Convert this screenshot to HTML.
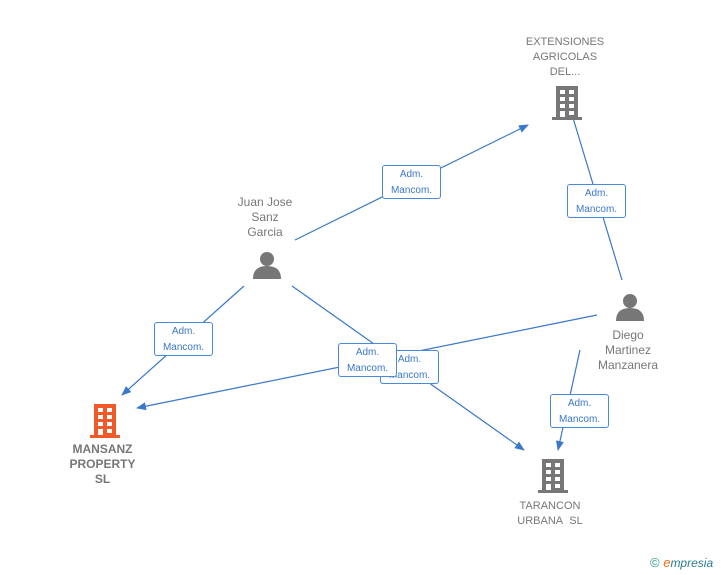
<!DOCTYPE html>
<html><head><style>
body{margin:0;width:728px;height:575px;background:#fff;position:relative;overflow:hidden;font-family:"Liberation Sans",sans-serif}
.t{position:absolute;text-align:center;font-size:12px;color:#777;line-height:15px}
.lb{position:absolute;width:59px;height:34px;background:#fff;border:1px solid #4a88d9;border-radius:3px;font-size:10px;color:#3a78c9;text-align:center;line-height:16px;box-sizing:border-box;padding-top:1px}
</style></head><body>
<svg width="728" height="575" style="position:absolute;left:0;top:0">
<defs><marker id="a" markerWidth="10" markerHeight="10" refX="9" refY="5" orient="auto" markerUnits="userSpaceOnUse"><path d="M0,1 L10,5 L0,9 Z" fill="#3a78c9"/></marker>
<g id="b"><rect x="4" y="0" width="22" height="33" fill="currentColor"/><rect x="0" y="31" width="30" height="3" fill="currentColor"/>
<g fill="#fff"><rect x="8" y="4" width="5" height="4"/><rect x="17" y="4" width="5" height="4"/><rect x="8" y="11" width="5" height="4"/><rect x="17" y="11" width="5" height="4"/><rect x="8" y="18" width="5" height="4"/><rect x="17" y="18" width="5" height="4"/><rect x="8" y="25" width="5" height="6"/><rect x="17" y="25" width="5" height="4"/></g></g>
<g id="p"><circle cx="14" cy="8" r="7" fill="#777"/><path d="M0,28 Q0,15 14,15 Q28,15 28,28 Z" fill="#777"/></g></defs>
<g stroke="#3a78c9" stroke-width="1.2" fill="none" marker-end="url(#a)">
<line x1="295" y1="240" x2="528" y2="125"/>
<line x1="622" y1="280" x2="570" y2="108"/>
<line x1="244" y1="286" x2="122" y2="395"/>
<line x1="292" y1="286" x2="524" y2="450"/>
<line x1="597" y1="315" x2="137" y2="408"/>
<line x1="580" y1="350" x2="558" y2="450"/>
</g>
<use href="#b" x="552" y="86" style="color:#777"/>
<use href="#b" x="90" y="404" style="color:#f05a28"/>
<use href="#b" x="538" y="459" style="color:#777"/>
<use href="#p" x="253" y="251"/>
<use href="#p" x="616" y="293"/>
</svg>
<div class="t" style="left:505px;top:35px;width:120px;font-size:11px">EXTENSIONES<br>AGRICOLAS<br>DEL...</div>
<div class="t" style="left:215px;top:195px;width:100px">Juan Jose<br>Sanz<br>Garcia</div>
<div class="t" style="left:578px;top:328px;width:100px">Diego<br>Martinez<br>Manzanera</div>
<div class="t" style="left:50px;top:442px;width:105px;font-weight:bold">MANSANZ<br>PROPERTY<br>SL</div>
<div class="t" style="left:495px;top:499px;width:110px;font-size:11px">TARANCON<br>URBANA&nbsp; SL</div>
<div class="lb" style="left:382px;top:165px">Adm.<br>Mancom.</div>
<div class="lb" style="left:567px;top:184px">Adm.<br>Mancom.</div>
<div class="lb" style="left:154px;top:322px">Adm.<br>Mancom.</div>
<div class="lb" style="left:380px;top:350px">Adm.<br>Mancom.</div>
<div class="lb" style="left:338px;top:343px">Adm.<br>Mancom.</div>
<div class="lb" style="left:550px;top:394px">Adm.<br>Mancom.</div>
<div style="position:absolute;left:650px;top:555px;font-size:13px;color:#2a9d8f">©<span style="color:#e8731a;font-style:italic"> e</span><span style="font-style:italic;color:#2a7d8f;font-size:12px">mpresia</span></div>
</body></html>
